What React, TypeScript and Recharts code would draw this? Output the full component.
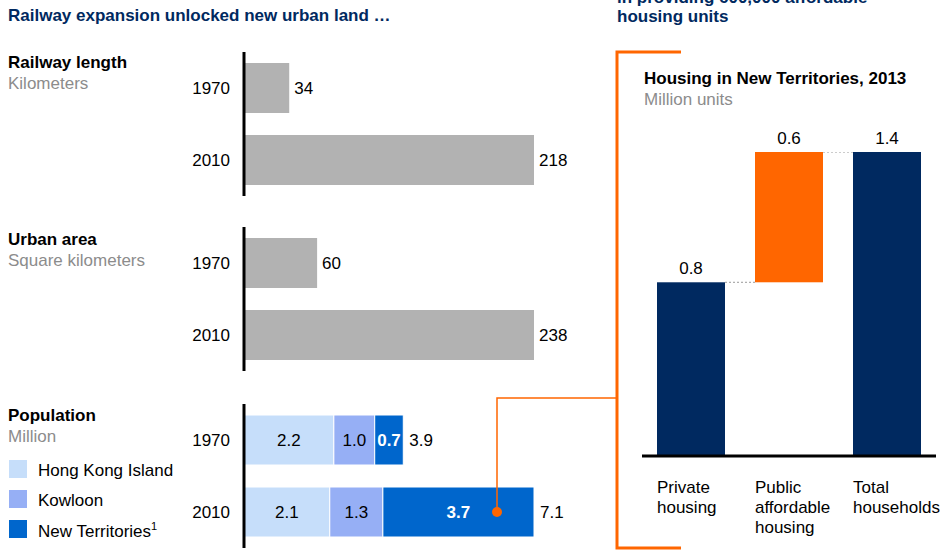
import React from "react";
import { BarChart, Bar, XAxis, YAxis, LabelList, Cell } from "recharts";

const YEARS = ["1970", "2010"];
const RAIL_KM = [34, 218];
const URBAN_KM2 = [60, 238];
const POP_HKI = [2.2, 2.1];
const POP_KOWLOON = [1.0, 1.3];
const POP_NT = [0.7, 3.7];
const POP_TOTAL = [3.9, 7.1];

const HOUSING_CATEGORIES = ["Private\nhousing", "Public\naffordable\nhousing", "Total\nhouseholds"];
const HOUSING_VALUES = [0.8, 0.6, 1.4];
const HOUSING_BASES = [0, 0.8, 0];

const NAVY = "#002960";
const ORANGE = "#FF6600";
const GRAY_BAR = "#B2B2B2";
const SUB_GRAY = "#8C8C8C";
const HKI = "#C6DEFA";
const KOWLOON = "#96AFF5";
const NT = "#0066CC";
const HOUSING_COLORS = [NAVY, ORANGE, NAVY];

const FONT = "Arial, 'Liberation Sans', sans-serif";
const BAR_GAP = 30;
const HOUSING_BAR = 68;

const railData = YEARS.map((year, i) => ({ year, value: RAIL_KM[i] }));
const urbanData = YEARS.map((year, i) => ({ year, value: URBAN_KM2[i] }));
const popData = YEARS.map((year, i) => ({
  year,
  hki: POP_HKI[i],
  kowloon: POP_KOWLOON[i],
  nt: POP_NT[i],
  total: POP_TOTAL[i],
}));
const housingData = HOUSING_CATEGORIES.map((name, i) => ({
  name,
  base: HOUSING_BASES[i],
  value: HOUSING_VALUES[i],
  color: HOUSING_COLORS[i],
}));

const fmt1 = (v: any) => Number(v).toFixed(1);

function Heading({ title, subtitle, top }: { title: string; subtitle: string; top: number }) {
  return (
    <div style={{ position: "absolute", left: 8, top, lineHeight: "21px", fontSize: 17 }}>
      <div style={{ fontWeight: "bold", color: "#000" }}>{title}</div>
      <div style={{ color: SUB_GRAY }}>{subtitle}</div>
    </div>
  );
}

function SimpleBars({ data, max, top }: { data: any[]; max: number; top: number }) {
  return (
    <div style={{ position: "absolute", left: 180, top }}>
      <BarChart
        width={420}
        height={144}
        layout="vertical"
        data={data}
        margin={{ top: 0, right: 66, left: 0, bottom: 0 }}
      >
        <XAxis type="number" hide domain={[0, max]} allowDataOverflow />
        <YAxis
          type="category"
          dataKey="year"
          width={64}
          axisLine={{ stroke: "#000", strokeWidth: 3 }}
          tickLine={false}
          tickMargin={8}
          tick={{ fill: "#000", fontSize: 17 }}
        />
        <Bar dataKey="value" fill={GRAY_BAR} barSize={50} isAnimationActive={false}>
          <LabelList dataKey="value" position="right" offset={5} fill="#000" fontSize={17} />
        </Bar>
      </BarChart>
    </div>
  );
}

function PopulationBars({ top }: { top: number }) {
  return (
    <div style={{ position: "absolute", left: 180, top }}>
      <BarChart
        width={420}
        height={144}
        layout="vertical"
        data={popData}
        margin={{ top: 0, right: 66, left: 0, bottom: 0 }}
      >
        <XAxis type="number" hide domain={[0, Math.max(...POP_TOTAL)]} allowDataOverflow />
        <YAxis
          type="category"
          dataKey="year"
          width={64}
          axisLine={{ stroke: "#000", strokeWidth: 3 }}
          tickLine={false}
          tickMargin={8}
          tick={{ fill: "#000", fontSize: 17 }}
        />
        <Bar dataKey="hki" stackId="p" fill={HKI} stroke="#fff" strokeWidth={1} barSize={50} isAnimationActive={false}>
          <LabelList dataKey="hki" position="center" fill="#000" fontSize={17} formatter={fmt1} />
        </Bar>
        <Bar dataKey="kowloon" stackId="p" fill={KOWLOON} stroke="#fff" strokeWidth={1} barSize={50} isAnimationActive={false}>
          <LabelList dataKey="kowloon" position="center" fill="#000" fontSize={17} formatter={fmt1} />
        </Bar>
        <Bar dataKey="nt" stackId="p" fill={NT} stroke="#fff" strokeWidth={1} barSize={50} isAnimationActive={false}>
          <LabelList dataKey="nt" position="center" fill="#fff" fontSize={17} fontWeight="bold" formatter={fmt1} />
          <LabelList dataKey="total" position="right" offset={6} fill="#000" fontSize={17} formatter={fmt1} />
        </Bar>
      </BarChart>
    </div>
  );
}

function HousingTick(props: any) {
  const { x, y, payload } = props;
  const lines = String(payload.value).split("\n");
  const left = x - HOUSING_BAR / 2;
  return (
    <text x={left} y={y} textAnchor="start" fill="#000" fontSize={17}>
      {lines.map((l, i) => (
        <tspan key={i} x={left} dy={i === 0 ? 29 : 20}>
          {l}
        </tspan>
      ))}
    </text>
  );
}

function WaterfallBar(props: any) {
  const { x, y, width, height, index, payload } = props;
  return (
    <g>
      <rect x={x} y={y} width={width} height={height} fill={payload.color} />
      {index < housingData.length - 1 && (
        <line
          x1={x + width}
          x2={x + width + BAR_GAP}
          y1={y}
          y2={y}
          stroke="#999"
          strokeWidth={1}
          strokeDasharray="2 2"
        />
      )}
    </g>
  );
}

function HousingChart() {
  return (
    <div style={{ position: "absolute", left: 640, top: 120 }}>
      <BarChart
        width={300}
        height={426}
        data={housingData}
        margin={{ top: 32, right: 4, left: 2, bottom: 0 }}
        barCategoryGap={BAR_GAP}
      >
        <YAxis hide domain={[0, 1.4]} allowDataOverflow />
        <XAxis
          dataKey="name"
          height={90}
          axisLine={{ stroke: "#000", strokeWidth: 3 }}
          tickLine={false}
          interval={0}
          tick={<HousingTick />}
        />
        <Bar dataKey="base" stackId="w" fill="transparent" barSize={HOUSING_BAR} isAnimationActive={false} />
        <Bar dataKey="value" stackId="w" barSize={HOUSING_BAR} shape={<WaterfallBar />} isAnimationActive={false}>
          {housingData.map((d) => (
            <Cell key={d.name} fill={d.color} />
          ))}
          <LabelList dataKey="value" position="top" offset={8} fill="#000" fontSize={17} formatter={fmt1} />
        </Bar>
      </BarChart>
    </div>
  );
}

function Legend() {
  const items = [
    { label: "Hong Kong Island", color: HKI, sup: "" },
    { label: "Kowloon", color: KOWLOON, sup: "" },
    { label: "New Territories", color: NT, sup: "1" },
  ];
  return (
    <div style={{ position: "absolute", left: 9, top: 460, fontSize: 17 }}>
      {items.map((it) => (
        <div key={it.label} style={{ display: "flex", alignItems: "center", height: 30 }}>
          <div style={{ width: 18, height: 18, background: it.color, marginRight: 11, marginTop: -12 }} />
          <div style={{ marginTop: -8 }}>
            {it.label}
            {it.sup && <sup style={{ fontSize: 11 }}>{it.sup}</sup>}
          </div>
        </div>
      ))}
    </div>
  );
}

export default function App() {
  return (
    <div
      style={{
        position: "absolute",
        left: 0,
        top: 0,
        width: 943,
        height: 551,
        overflow: "hidden",
        background: "#fff",
        fontFamily: FONT,
        color: "#000",
      }}
    >
      <div style={{ position: "absolute", left: 8, top: 5, fontSize: 17, fontWeight: "bold", color: NAVY, lineHeight: "21px" }}>
        Railway expansion unlocked new urban land …
      </div>
      <div style={{ position: "absolute", left: 617, top: -12, fontSize: 17, fontWeight: "bold", color: NAVY, lineHeight: "19px" }}>
        <div>in providing 600,000 affordable</div>
        <div>housing units</div>
      </div>

      <Heading title="Railway length" subtitle="Kilometers" top={52} />
      <Heading title="Urban area" subtitle="Square kilometers" top={229} />
      <Heading title="Population" subtitle="Million" top={405} />
      <Legend />

      <SimpleBars data={railData} max={Math.max(...RAIL_KM)} top={52} />
      <SimpleBars data={urbanData} max={Math.max(...URBAN_KM2)} top={227} />
      <PopulationBars top={404} />

      <div style={{ position: "absolute", left: 644, top: 68, lineHeight: "21px", fontSize: 17 }}>
        <div style={{ fontWeight: "bold" }}>Housing in New Territories, 2013</div>
        <div style={{ color: SUB_GRAY }}>Million units</div>
      </div>
      <HousingChart />

      <svg width={943} height={551} style={{ position: "absolute", left: 0, top: 0, pointerEvents: "none" }}>
        <polyline points="681,52 617,52 617,548 681,548" fill="none" stroke={ORANGE} strokeWidth={3} />
        <polyline points="497,512 497,398 617,398" fill="none" stroke={ORANGE} strokeWidth={1.5} />
        <circle cx={497} cy={512} r={5} fill={ORANGE} />
      </svg>
    </div>
  );
}
